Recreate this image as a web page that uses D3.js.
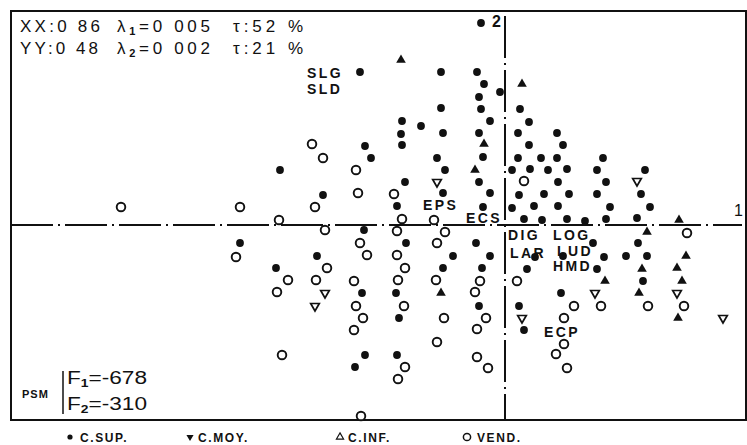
<!DOCTYPE html>
<html>
<head>
<meta charset="utf-8">
<script src="https://cdn.jsdelivr.net/npm/d3@7"></script>
<style>
  body { margin: 0; background: #fff; }
  text { font-family: "Liberation Sans", Arial, sans-serif; fill: #111; }
</style>
</head>
<body>
<svg id="chart" width="747" height="445"></svg>
<script>
// factor scores (F1, F2) per occupation group
var cSup = [
  [-22.5,5.5],[-18.2,3.0],[-26.5,-1.8],[-22.9,-4.3],[-18.8,-3.1],
  [-14.5,15.3],[-14.0,7.9],[-13.4,6.7],[-14.1,-0.5],[-14.3,-6.8],[-14.0,-13.0],[-15.0,-14.2],
  [-10.3,10.4],[-10.4,9.1],[-10.3,8.0],[-8.4,9.9],[-10.0,4.3],[-10.8,1.9],[-9.9,-1.8],[-10.9,-6.8],[-10.6,-9.3],[-10.8,-13.0],
  [-6.4,15.3],[-6.4,11.7],[-6.2,9.2],[-6.8,6.7],[-6.0,5.5],[-6.2,3.2],[-6.2,-4.3],[-5.2,-3.1],
  [-2.4,20.2],[-2.8,15.3],[-2.1,14.1],[-0.5,13.3],[-2.6,12.8],[-2.4,11.6],[-1.5,10.4],[-2.6,9.2],[-2.2,6.8],
  [-2.6,4.3],[-1.5,3.2],[-2.2,1.8],[-2.9,-1.8],[-1.5,-3.1],[-2.3,-4.3],[-2.6,-8.1],
  [1.5,11.6],[2.4,10.3],[1.3,9.2],[5.2,9.2],[2.4,8.0],[5.8,8.0],[1.3,6.7],[3.6,6.7],[5.2,6.7],[9.8,6.7],
  [0.7,5.5],[2.5,5.6],[4.3,5.5],[6.2,5.6],[9.2,5.5],[14.0,5.5],[5.3,4.3],[10.1,4.3],
  [1.4,3.0],[3.9,3.1],[6.4,3.1],[9.2,3.1],[13.6,3.1],[0.7,1.7],[2.9,1.9],[5.3,1.9],[10.5,1.8],[14.5,1.8],
  [1.9,0.6],[3.7,0.5],[6.2,0.6],[8.0,0.4],[10.1,0.6],[13.2,0.7],
  [3.0,-3.2],[2.2,-4.4],[1.4,-8.1],[1.9,-10.5],[5.8,-3.1],[5.6,-6.8],
  [8.8,-1.8],[9.9,-3.2],[9.2,-4.4],[13.3,-1.8],[12.1,-3.1],[14.2,-3.1],[13.8,-5.6]
];
var cMoy = [
  [-18.0,-6.8],[-19.0,-8.1],[-6.8,4.3],[1.7,-9.3],[9.0,-6.8],[13.2,4.4],[17.2,-6.8],[21.8,-9.3]
];
var cInf = [
  [-10.4,16.5],[-2.1,8.1],[-3.0,5.5],[-6.4,-6.8],[1.7,14.1],[10.0,-5.6],[13.7,-4.4],[13.4,-6.8],
  [14.2,-0.7],[17.4,0.5],[18.1,-3.1],[17.2,-4.3],[17.7,-5.6],[17.3,-9.3]
];
var vend = [
  [-38.4,1.8],[-26.5,1.8],[-26.9,-3.2],[-22.6,0.5],[-21.7,-5.5],[-22.8,-6.7],[-22.3,-13.0],
  [-19.3,8.1],[-18.2,6.7],[-19.0,1.8],[-18.0,-0.5],[-17.8,-4.3],[-18.9,-5.5],
  [-14.9,5.5],[-14.7,3.2],[-14.5,-1.8],[-13.8,-3.0],[-15.1,-5.6],[-14.9,-8.1],[-14.2,-9.3],[-15.1,-10.5],[-14.4,-19.1],
  [-11.1,3.1],[-10.3,0.6],[-10.8,-0.6],[-10.8,-3.0],[-10.0,-4.3],[-10.7,-5.5],[-10.1,-8.1],[-10.0,-14.2],[-10.7,-15.4],
  [-7.1,0.5],[-6.0,-0.7],[-6.8,-1.8],[-6.9,-5.5],[-6.1,-9.3],[-6.8,-11.7],
  [-2.5,-5.6],[-3.0,-6.7],[-1.9,-9.3],[-2.8,-10.4],[-2.8,-13.2],[-1.7,-14.3],
  [1.9,4.4],[1.2,-5.6],[6.9,-8.1],[5.9,-9.3],[5.9,-11.9],[5.1,-12.9],[6.2,-14.3],
  [9.6,-8.1],[14.3,-8.1],[18.2,-0.8],[17.9,-8.1]
];
// variable labels placed at their scores
var varLabels = [
  ["SLG",-19.8,14.7],["SLD",-19.8,13.1],["EPS",-8.2,1.5],["ECS",-3.9,0.2],
  ["DIG",0.3,-1.5],["LAR",0.5,-3.3],["LOG",4.8,-1.5],["LUD",5.2,-3.1],["HMD",4.8,-4.6],["ECP",3.9,-11.2]
];
var legendItems = ["C.SUP.","C.MOY.","C.INF.","VEND."];

var svg = d3.select("#chart");
var x = d3.scaleLinear().domain([-49.4, 23.7]).range([11, 742]);
var y = d3.scaleLinear().domain([-19.5, 21.4]).range([420, 11]);
var ink = "#111";

// frame
svg.append("rect")
  .attr("x", 11).attr("y", 11)
  .attr("width", 735).attr("height", 409)
  .attr("fill", "none").attr("stroke", ink).attr("stroke-width", 2);

// axes through origin, dash-dot
svg.append("line")
  .attr("x1", x(-49.4)).attr("x2", x(23.7)).attr("y1", y(0)).attr("y2", y(0))
  .attr("stroke", ink).attr("stroke-width", 2).attr("stroke-dasharray", "42,5,2,5");
svg.append("line")
  .attr("x1", x(0)).attr("x2", x(0)).attr("y1", y(20.9)).attr("y2", y(-19.5))
  .attr("stroke", ink).attr("stroke-width", 2).attr("stroke-dasharray", "42,5,2,5");

svg.append("text").attr("x", x(0) - 13).attr("y", y(19.8)).attr("font-size", 16).attr("font-weight", "bold").text("2");
svg.append("text").attr("x", x(22.9)).attr("y", y(0.9)).attr("font-size", 16).text("1");

// points
var g = svg.append("g");
g.selectAll(".sup").data(cSup).join("circle")
  .attr("cx", d => x(d[0])).attr("cy", d => y(d[1])).attr("r", 3.9).attr("fill", ink);
g.selectAll(".vend").data(vend).join("circle")
  .attr("cx", d => x(d[0])).attr("cy", d => y(d[1])).attr("r", 4.3)
  .attr("fill", "#fff").attr("stroke", ink).attr("stroke-width", 1.9);
var tri = d3.symbol().type(d3.symbolTriangle).size(40);
g.selectAll(".inf").data(cInf).join("path")
  .attr("d", tri).attr("transform", d => "translate(" + x(d[0]) + "," + y(d[1]) + ")")
  .attr("fill", ink);
var tri2 = d3.symbol().type(d3.symbolTriangle).size(32);
g.selectAll(".moy").data(cMoy).join("path")
  .attr("d", tri2).attr("transform", d => "translate(" + x(d[0]) + "," + y(d[1]) + ") rotate(180)")
  .attr("fill", "#fff").attr("stroke", ink).attr("stroke-width", 1.7);

// variable labels
svg.selectAll(".vl").data(varLabels).join("text")
  .attr("x", d => x(d[1])).attr("y", d => y(d[2]))
  .attr("font-size", 14).attr("font-weight", "bold").attr("letter-spacing", 2.4)
  .text(d => d[0]);

// header
function header(txt, sub, rest, px, py, w) {
  var t = svg.append("text").attr("x", px).attr("y", py).attr("font-size", 17)
    .attr("textLength", w).attr("lengthAdjust", "spacing");
  t.append("tspan").text(txt);
  if (sub) {
    t.append("tspan").attr("font-size", 11).attr("font-weight", "bold").attr("dy", 3).text(sub);
    t.append("tspan").attr("dy", -3).text(rest);
  }
}
header("XX:0 86", null, null, 20, 32, 80);
header("λ", "1", "=0 005", 117, 32, 93);
header("τ:52 %", null, null, 233, 32, 70);
header("YY:0 48", null, null, 20, 54, 78);
header("λ", "2", "=0 002", 117, 54, 93);
header("τ:21 %", null, null, 233, 54, 70);

// PSM block
svg.append("text").attr("x", 22).attr("y", 398).attr("font-size", 11).attr("font-weight", "bold")
  .attr("letter-spacing", 1).text("PSM");
svg.append("line").attr("x1", 63).attr("x2", 63).attr("y1", 371).attr("y2", 414)
  .attr("stroke", ink).attr("stroke-width", 1.5);
[["1", "=-678", 384], ["2", "=-310", 410]].forEach(function (r) {
  var t = svg.append("text").attr("x", 67).attr("y", r[2]).attr("font-size", 18)
    .attr("textLength", 80).attr("lengthAdjust", "spacingAndGlyphs");
  t.append("tspan").text("F");
  t.append("tspan").attr("font-size", 11).attr("font-weight", "bold").attr("dy", 3).text(r[0]);
  t.append("tspan").attr("dy", -3).text(r[1]);
});

// legend
var lg = svg.append("g");
var lx = [70, 190, 340, 467];
lg.append("circle").attr("cx", lx[0]).attr("cy", 437).attr("r", 2.6).attr("fill", ink);
lg.append("path").attr("d", d3.symbol().type(d3.symbolTriangle).size(22))
  .attr("transform", "translate(" + lx[1] + ",437) rotate(180)").attr("fill", ink);
lg.append("path").attr("d", d3.symbol().type(d3.symbolTriangle).size(22))
  .attr("transform", "translate(" + lx[2] + ",437)").attr("fill", "none").attr("stroke", ink).attr("stroke-width", 1.2);
lg.append("circle").attr("cx", lx[3]).attr("cy", 437).attr("r", 3.6)
  .attr("fill", "none").attr("stroke", ink).attr("stroke-width", 1.5);
lg.selectAll("text").data(legendItems).join("text")
  .attr("x", (d, i) => lx[i] + (i === 0 || i === 3 ? 10 : 8)).attr("y", 442)
  .attr("font-size", 12).attr("font-weight", "bold").attr("letter-spacing", 1.6)
  .text(d => d);
</script>
</body>
</html>
